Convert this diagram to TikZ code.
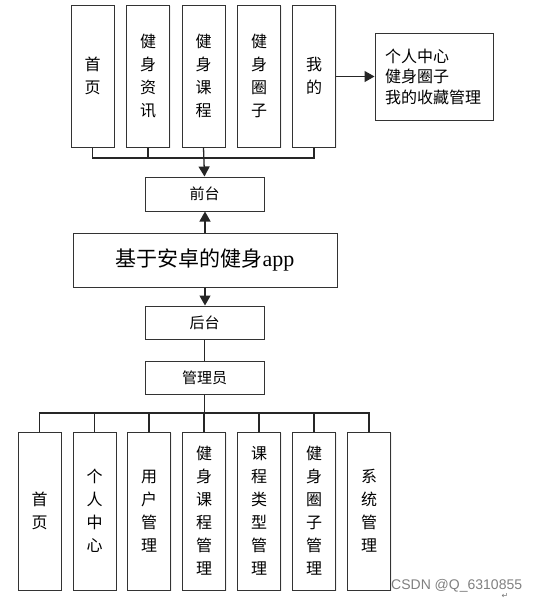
\documentclass[tikz,border=0pt]{standalone}
\usepackage{fontspec}
\setmainfont{Liberation Serif}
\newfontfamily\cjk{Noto Sans CJK SC}
\newfontfamily\wm{Liberation Sans}
\newfontfamily\dvs{DejaVu Sans}
\usetikzlibrary{arrows.meta,shadows}
\begin{document}
\begin{tikzpicture}[x=1pt,y=-1pt,
  box/.style={draw=black!80,line width=1pt,fill=white,inner sep=0pt,
    drop shadow={opacity=0.12,shadow xshift=1.2pt,shadow yshift=-1.2pt}},
  vbox/.style={box,minimum width=43pt,align=center,
    font=\cjk\fontsize{16}{23}\selectfont},
  topbox/.style={vbox,minimum height=142pt},
  botbox/.style={vbox,minimum height=158pt},
  hbox/.style={box,minimum width=119pt,minimum height=33pt,
    font=\cjk\fontsize{15}{18}\selectfont},
  conn/.style={line width=1.3pt,draw=black!85},
  arr/.style={conn,-{Triangle[width=11pt,length=10pt]}}]
\useasboundingbox (0,0) rectangle (542,603);
% top row
\node[topbox] (t1) at (92.5,76) {首\\页};
\node[topbox] (t2) at (148,76) {健\\身\\资\\讯};
\node[topbox] (t3) at (203.5,76) {健\\身\\课\\程};
\node[topbox] (t4) at (259,76) {健\\身\\圈\\子};
\node[topbox] (t5) at (314,76) {我\\的};
\node[box,minimum width=118pt,minimum height=87pt,align=left,
  font=\cjk\fontsize{16}{20.5}\selectfont] (info) at (434,76.5)
  {个人中心\\健身圈子\\我的收藏管理\hspace*{2pt}};
\coordinate (tbus) at (0,158);
% middle column
\node[hbox,minimum height=34pt] (front) at (204.5,194) {前台};
\node[box,minimum width=264pt,minimum height=54pt,
  font=\cjk\fontsize{21}{24}\selectfont] (main) at (205,260)
  {基于安卓的健身{\fontsize{22}{24}\selectfont\rmfamily app}};
\node[hbox] (back) at (204.5,322.5) {后台};
\node[hbox] (admin) at (204.5,377.5) {管理员};
\coordinate (bbus) at (0,413);
% bottom row
\node[botbox] (b1) at (39.5,511) {首\\页};
\node[botbox] (b2) at (94.5,511) {个\\人\\中\\心};
\node[botbox] (b3) at (149,511) {用\\户\\管\\理};
\node[botbox] (b4) at (204,511) {健\\身\\课\\程\\管\\理};
\node[botbox] (b5) at (259,511) {课\\程\\类\\型\\管\\理};
\node[botbox] (b6) at (314,511) {健\\身\\圈\\子\\管\\理};
\node[botbox] (b7) at (369,511) {系\\统\\管\\理};
% top connectors
\draw[conn] (t1.south) -- (t1.south |- tbus) -- (t5.south |- tbus) -- (t5.south);
\draw[conn] (t2.south) -- (t2.south |- tbus);
\draw[arr] (t3.south) -- (front.north);
\draw[arr] (t5.east |- info.west) -- (info.west);
% middle connectors
\draw[arr] (main.north) -- (main.north |- front.south);
\draw[arr] (main.south) -- (main.south |- back.north);
\draw[conn] (back.south) -- (admin.north);
% bottom connectors
\draw[conn] (admin.south) -- (admin.south |- bbus);
\draw[conn] (b1.north) -- (b1.north |- bbus) -- (b7.north |- bbus) -- (b7.north);
\foreach \i in {2,...,6}{\draw[conn] (b\i.north) -- (b\i.north |- bbus);}
% watermark
\node[font=\wm\fontsize{14}{16}\selectfont,text=black!50,anchor=west,inner sep=0pt] (mark) at (391,586) {CSDN @Q\_6310855};
\node[font=\dvs\fontsize{8}{9}\selectfont,text=black!55,inner sep=0pt] (ret) at (505,596) {↵};
\end{tikzpicture}
\end{document}
